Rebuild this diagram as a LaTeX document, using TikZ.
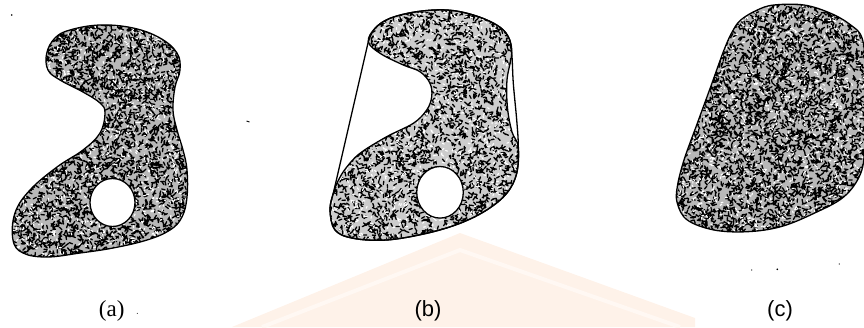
\documentclass[tikz,border=0pt]{standalone}
\usepackage{fontspec}
\setmainfont{Liberation Serif}
\newfontfamily\labsans{Liberation Sans}
\definecolor{wmA}{RGB}{254,242,233}
\definecolor{wmB}{RGB}{255,248,243}
\begin{document}
\begin{tikzpicture}[x=1pt,y=-1pt,
  outline/.style={line width=1.3pt,black},
  speck/.style={line width=1.3pt,black,line cap=round},
  wspeck/.style={line width=1.1pt,white,line cap=round},
  lab/.style={inner sep=0pt,font=\fontsize{23}{27}\selectfont}]
\useasboundingbox (0,0) rectangle (864,327);
\pgfmathsetseed{4242}
% watermark
\fill[wmA] (232,327) -- (460,233) -- (695,318) -- (695,327) -- cycle;
\draw[wmB,line width=4pt] (262,327) -- (460,250) -- (680,327);
% ---------------- (a)
\def\shapeA{plot[smooth cycle,tension=0.65] coordinates {(46.7,53.3) (55,38) (70,30) (100,25) (133,28) (160,38) (177,53) (180,70) (175,87) (173,110) (177,130) (183,150) (187,170) (187,197) (182,217) (170,230) (147,240) (113,248) (80,253) (47,257) (23,253) (13,240) (15,213) (30,190) (57,167) (83,150) (100,133) (105,113) (100,103) (83,92) (60,80) (48,70)}}
\begin{scope}
  \clip \shapeA;
  \fill[black!28] (0,0) rectangle (200,262);
  \draw[speck] foreach \i in {1,...,4300} { ({8+rnd*184},{20+rnd*242}) -- ++({rnd*360}:3.4) };
  \draw[wspeck] foreach \i in {1,...,1100} { ({8+rnd*184},{20+rnd*242}) -- ++({rnd*360}:2) };
\end{scope}
\draw[outline] \shapeA;
\fill[white] (112.5,202.5) ellipse [x radius=22.5, y radius=24];
\draw[outline] (112.5,202.5) ellipse [x radius=22.5, y radius=24];
% ---------------- (b)
\def\innerB{plot[smooth cycle,tension=0.6] coordinates {(368.3,41.7) (375,28.3) (390,18.3) (416.7,11.7) (446.7,10) (473.3,15) (496.7,25) (508.3,36.7) (511.7,53.3) (507,80) (507.5,108) (512,132) (518.3,146.7) (516.7,173.3) (506.7,193.3) (486.7,210) (460,223.3) (426.7,233.3) (386.7,240) (353.3,238.3) (335,230) (330,210) (333.3,193.3) (338,181) (346,168) (360,153.3) (386.7,136.7) (413.3,123.3) (426.7,110) (431.7,96.7) (430,83.3) (420,71.7) (403.3,65) (380,53.3)}}
\begin{scope}
  \clip \innerB;
  \fill[black!20] (320,0) rectangle (530,250);
  \draw[speck] foreach \i in {1,...,3500} { ({326+rnd*196},{6+rnd*238}) -- ++({rnd*360}:3.2) };
  \draw[wspeck] foreach \i in {1,...,1200} { ({326+rnd*196},{6+rnd*238}) -- ++({rnd*360}:2) };
\end{scope}
\draw[outline] \innerB;
\draw[outline] plot[smooth,tension=0.6] coordinates {(368.3,41.7) (375,28.3) (390,18.3) (416.7,11.7) (446.7,10) (473.3,15) (496.7,25) (508.3,36.7) (511.7,53.3) (513.3,83.3) (516.7,120) (518.3,146.7) (516.7,173.3) (506.7,193.3) (486.7,210) (460,223.3) (426.7,233.3) (386.7,240) (353.3,238.3) (335,230) (330,210) (333.3,193.3)} -- cycle;
\fill[white] (440,192.3) ellipse [x radius=23.3, y radius=25.8];
\draw[outline] (440,192.3) ellipse [x radius=23.3, y radius=25.8];
% ---------------- (c)
\def\shapeC{plot[smooth cycle,tension=0.6] coordinates {(732.3,31.7) (740.7,20) (757.3,10) (774,5) (804,5) (830.7,13.3) (850.7,25) (862,38) (866,70) (867,110) (865,145) (860.7,173.3) (844,196.7) (814,213.3) (780.7,226.7) (747.3,231.7) (714,230) (687.3,220) (677.3,203.3) (677.3,186.7) (684,160) (697.3,123.3) (710.7,86.7) (724,50)}}
\begin{scope}
  \clip \shapeC;
  \fill[black!28] (670,0) rectangle (870,240);
  \draw[speck] foreach \i in {1,...,4300} { ({672+rnd*196},{1+rnd*236}) -- ++({rnd*360}:3.4) };
  \draw[wspeck] foreach \i in {1,...,1100} { ({672+rnd*196},{1+rnd*236}) -- ++({rnd*360}:2) };
\end{scope}
\draw[outline] \shapeC;
% stray marks
\fill (11.7,15) circle (0.9);
\draw[line width=0.9pt] (246.5,121) -- (249.5,122);
\fill (751.7,270) circle (0.6);
\fill (777.3,269.3) circle (0.9);
\fill (839.3,264) circle (0.6);
\fill (137.3,313.3) circle (0.5);
% labels
\node[lab] (la) at (111.7,311) {(a)};
\node[lab,font=\labsans\fontsize{22}{26}\selectfont] (lb) at (428,311) {(b)};
\node[lab,font=\labsans\fontsize{22}{26}\selectfont] (lc) at (780,311) {(c)};
\end{tikzpicture}
\end{document}
